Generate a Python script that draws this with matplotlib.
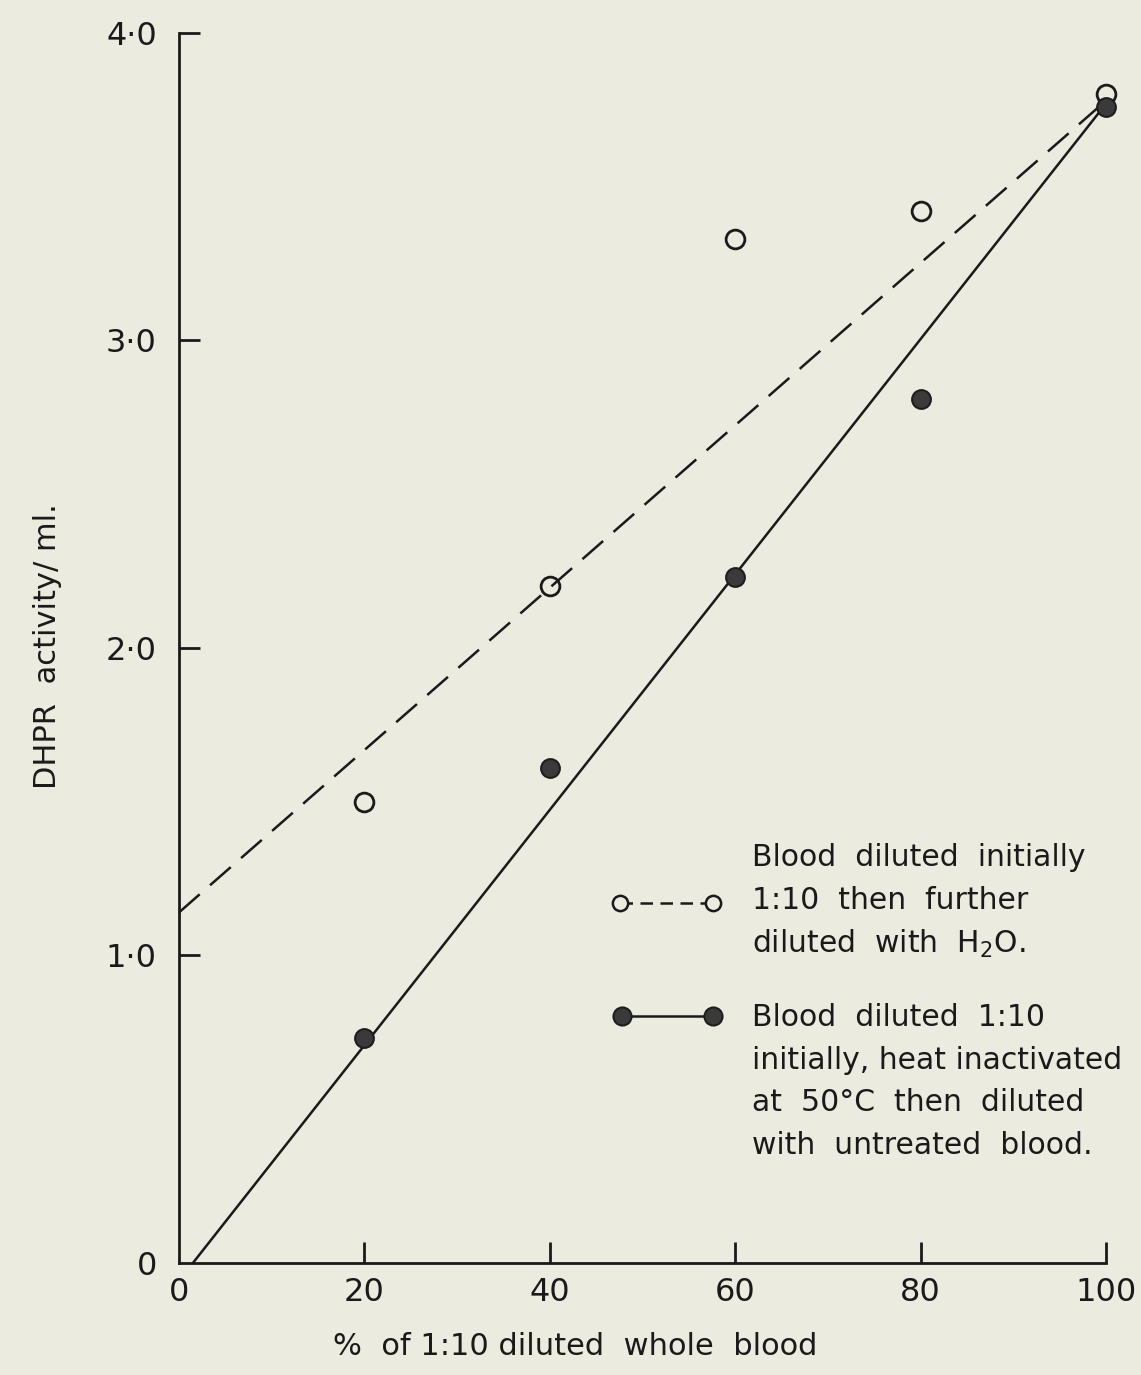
import matplotlib
matplotlib.use("Agg")
import matplotlib.pyplot as plt
from matplotlib.lines import Line2D

plt.rcParams['font.family'] = ['DejaVu Sans']
plt.rcParams['mathtext.default'] = 'regular'

# Data
pct_blood = [20, 40, 60, 80, 100]
water_diluted = [1.50, 2.20, 3.33, 3.42, 3.80]
heat_inactivated = [0.73, 1.61, 2.23, 2.81, 3.76]

# Fitted lines (end points)
water_fit_x = [0, 100]
water_fit_y = [1.14, 3.78]
heat_fit_x = [1.5, 100]
heat_fit_y = [0.0, 3.77]

x_ticks = [0, 20, 40, 60, 80, 100]
x_tick_labels = ['0', '20', '40', '60', '80', '100']
y_ticks = [0, 1.0, 2.0, 3.0, 4.0]
y_tick_labels = ['0', '1·0', '2·0', '3·0', '4·0']

bg = '#ECEBE0'
ink = '#1a1a1a'

fig = plt.figure(figsize=(11.41, 13.75), dpi=100, facecolor=bg)
ax = fig.add_axes([0.1569, 0.0815, 0.8124, 0.8945], facecolor=bg)
ax.set_xlim(0, 100)
ax.set_ylim(0, 4.0)

for s in ('top', 'right'):
    ax.spines[s].set_visible(False)
for s in ('left', 'bottom'):
    ax.spines[s].set_linewidth(2.0)
    ax.spines[s].set_color(ink)

ax.set_xticks(x_ticks)
ax.set_xticklabels(x_tick_labels)
ax.set_yticks(y_ticks)
ax.set_yticklabels(y_tick_labels)
ax.tick_params(axis='both', direction='in', length=15, width=2.0, color=ink,
               labelsize=23, labelcolor=ink)
ax.tick_params(axis='x', pad=10)
ax.tick_params(axis='y', pad=16)
# hide the tick marks that fall on the corner
ax.xaxis.get_major_ticks()[0].tick1line.set_visible(False)
ax.yaxis.get_major_ticks()[0].tick1line.set_visible(False)

# Fitted lines
ax.plot(water_fit_x, water_fit_y, color=ink, lw=1.8, dashes=(11, 5.5),
        clip_on=False)
ax.plot(heat_fit_x, heat_fit_y, color=ink, lw=1.8, clip_on=False)

# Points
ax.plot(pct_blood, water_diluted, 'o', ms=13.5, mfc='none', mec=ink, mew=2.0,
        clip_on=False, zorder=4)
ax.plot(pct_blood, heat_inactivated, 'o', ms=13.5, mfc='#3a3a3a', mec='#1e1e1e',
        mew=1.5, clip_on=False, zorder=5)

ax.set_xlabel('%  of 1:10 diluted  whole  blood', fontsize=22, color=ink)
ax.xaxis.set_label_coords((575 - 179) / 927.0, -(1332 - 1263) / 1230.0)
ax.set_ylabel('DHPR  activity/ ml.', fontsize=22, color=ink)
ax.yaxis.set_label_coords(-(179 - 62) / 927.0, (1263 - 646) / 1230.0)

# Key
tr = ax.transAxes
def axx(px):
    return (px - 179) / 927.0
def axy(py):
    return (1263 - py) / 1230.0

ax.add_line(Line2D([axx(620), axx(713)], [axy(903), axy(903)], transform=tr,
                   color=ink, lw=1.8, dashes=(5, 3), marker='o', ms=11,
                   mfc=bg, mec=ink, mew=1.8, clip_on=False))
ax.add_line(Line2D([axx(622), axx(713)], [axy(1016), axy(1016)], transform=tr,
                   color=ink, lw=1.8, marker='o', ms=13, mfc='#3a3a3a',
                   mec='#1e1e1e', mew=1.5, clip_on=False))

key1 = ['Blood  diluted  initially', '1:10  then  further',
        'diluted  with  H$_2$O.']
key2 = ['Blood  diluted  1:10', 'initially, heat inactivated',
        'at  50°C  then  diluted', 'with  untreated  blood.']
for i, line in enumerate(key1):
    ax.text(axx(752), axy(858 + i * 43), line, transform=tr, fontsize=21.5,
            color=ink, va='center', ha='left')
for i, line in enumerate(key2):
    ax.text(axx(752), axy(1018 + i * 42.5), line, transform=tr, fontsize=21.5,
            color=ink, va='center', ha='left')

fig.savefig('out.png', dpi=100, facecolor=bg)
